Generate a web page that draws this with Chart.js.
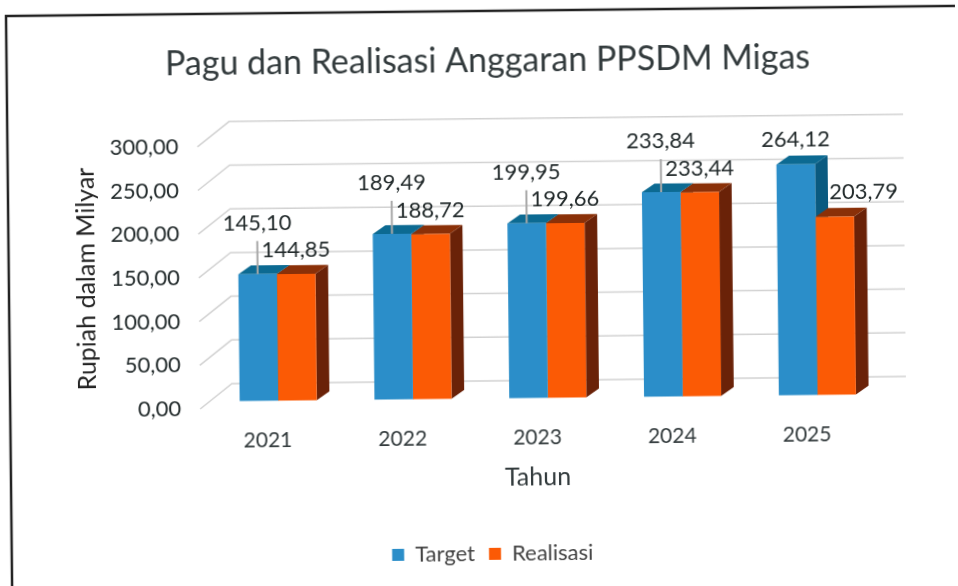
<!DOCTYPE html>
<html>
<head>
<meta charset="utf-8">
<title>Pagu dan Realisasi Anggaran PPSDM Migas</title>
<script src="https://cdn.jsdelivr.net/npm/chart.js@4"></script>
<style>
  html, body { margin: 0; height: 100%; background: #fff; overflow: hidden; }
  /* the reference is a slightly crooked scan */
  #chart { display: block; transform: rotate(-0.61deg); filter: blur(0.45px); }
</style>
</head>
<body>
<canvas id="chart" width="958" height="586"></canvas>
<script>
const years = ["2021", "2022", "2023", "2024", "2025"];
const target = [145.10, 189.49, 199.95, 233.84, 264.12];
const realisasi = [144.85, 188.72, 199.66, 233.44, 203.79];

const fmt = v => v.toFixed(2).replace(".", ",");

// fake 3D: bars stand a little behind the front of the floor
const FONT = "Lato";
const WALL = { dx: 32, dy: -25 };
const BAR = { dx: 10.7, dy: -7.5 };
const DEPTH = { dx: 12.7, dy: -8.7 };
const FACES = [
  { side: "#0a5a80", top: "#0c6a92" },
  { side: "#6a2208", top: "#8a3008" }
];

function poly(ctx, pts, color) {
  ctx.fillStyle = color;
  ctx.beginPath();
  pts.forEach((p, i) => i ? ctx.lineTo(p[0], p[1]) : ctx.moveTo(p[0], p[1]));
  ctx.closePath();
  ctx.fill();
}

const scene = {
  id: "scene",
  beforeDraw(chart) {
    const { ctx } = chart;
    ctx.save();
    ctx.strokeStyle = "#222";
    ctx.lineWidth = 2.5;
    ctx.strokeRect(9, 11, 2000, 2000);
    ctx.restore();
  },
  beforeDatasetsDraw(chart) {
    const { ctx, chartArea, scales: { y } } = chart;
    // back wall lines and the slanted bit on the left
    ctx.save();
    ctx.strokeStyle = "#d2d2d2";
    ctx.lineWidth = 1.5;
    y.ticks.forEach(t => {
      const py = y.getPixelForValue(t.value);
      ctx.beginPath();
      ctx.moveTo(chartArea.left, py);
      ctx.lineTo(chartArea.left + WALL.dx, py + WALL.dy);
      ctx.lineTo(chartArea.right + WALL.dx, py + WALL.dy);
      ctx.stroke();
    });
    ctx.restore();

    // native bars are the front faces, shifted back here and restored after
    ctx.save();
    ctx.translate(BAR.dx, BAR.dy);
    [0, 1].forEach(i => {
      chart.getDatasetMeta(i).data.forEach(el => {
        const l = el.x - el.width / 2, r = el.x + el.width / 2;
        poly(ctx, [[r, el.y], [r + DEPTH.dx, el.y + DEPTH.dy], [r + DEPTH.dx, el.base + DEPTH.dy], [r, el.base]], FACES[i].side);
        poly(ctx, [[l, el.y], [l + DEPTH.dx, el.y + DEPTH.dy], [r + DEPTH.dx, el.y + DEPTH.dy], [r, el.y]], FACES[i].top);
      });
    });
  },
  afterDatasetsDraw(chart) {
    const { ctx } = chart;
    const tMeta = chart.getDatasetMeta(0), rMeta = chart.getDatasetMeta(1);
    ctx.font = `22px ${FONT}`;
    ctx.textAlign = "center";
    ctx.textBaseline = "middle";
    years.forEach((_, i) => {
      const t = tMeta.data[i], r = rMeta.data[i];
      const close = Math.abs(target[i] - realisasi[i]) < 5;
      if (close) {
        ctx.strokeStyle = "#a8a8a8";
        ctx.lineWidth = 2;
        ctx.beginPath();
        ctx.moveTo(t.x, t.y);
        ctx.lineTo(t.x, t.y - 33);
        ctx.stroke();
      }
      ctx.fillStyle = "#222a2b";
      ctx.fillText(fmt(target[i]), t.x, t.y - (close ? 51 : 25));
      ctx.fillText(fmt(realisasi[i]), r.x + (close ? 0 : 29), r.y - 24);
    });
    ctx.restore();
  }
};

new Chart(document.getElementById("chart"), {
  type: "bar",
  data: {
    labels: years,
    datasets: [
      { label: "Target", data: target, backgroundColor: "#2b8ec9", clip: false },
      { label: "Realisasi", data: realisasi, backgroundColor: "#fb5a05", clip: false }
    ]
  },
  plugins: [scene],
  options: {
    responsive: false,
    animation: false,
    categoryPercentage: 0.572,
    barPercentage: 1,
    layout: { padding: { left: 22, right: 0, top: 41, bottom: 11 } },
    plugins: {
      title: {
        display: true,
        text: "Pagu dan Realisasi Anggaran PPSDM Migas",
        color: "#333b3d",
        font: { family: FONT, size: 34, weight: "normal" },
        padding: { top: 0, bottom: 62 }
      },
      legend: {
        position: "bottom",
        labels: {
          color: "#444",
          font: { family: FONT, size: 22 },
          usePointStyle: true,
          pointStyle: "rect",
          boxHeight: 12,
          pointStyleWidth: 12,
          padding: 14
        }
      },
      tooltip: { enabled: false }
    },
    scales: {
      x: {
        grid: { display: false },
        border: { display: false },
        ticks: { color: "#333b3d", font: { family: FONT, size: 21 }, padding: 12 },
        title: { display: true, text: "Tahun", color: "#333b3d", font: { family: FONT, size: 25 }, padding: { top: 0, bottom: 36 } },
        afterFit(s) { s.height = 123; }
      },
      y: {
        min: 0,
        max: 300,
        grid: { display: false, drawTicks: false },
        border: { display: false },
        ticks: {
          stepSize: 50,
          color: "#222a2b",
          font: { family: FONT, size: 22 },
          padding: 19,
          callback: v => fmt(v)
        },
        title: { display: true, text: "Rupiah dalam Milyar", color: "#222", font: { family: FONT, size: 25 }, padding: { top: 50 } },
        afterFit(s) { s.width = 177; }
      },
      // empty right axis, only keeps the plot short of the wall overhang
      y2: {
        position: "right",
        grid: { display: false },
        border: { display: false },
        ticks: { display: false },
        afterFit(s) { s.width = 85; }
      }
    }
  }
});
</script>
</body>
</html>
